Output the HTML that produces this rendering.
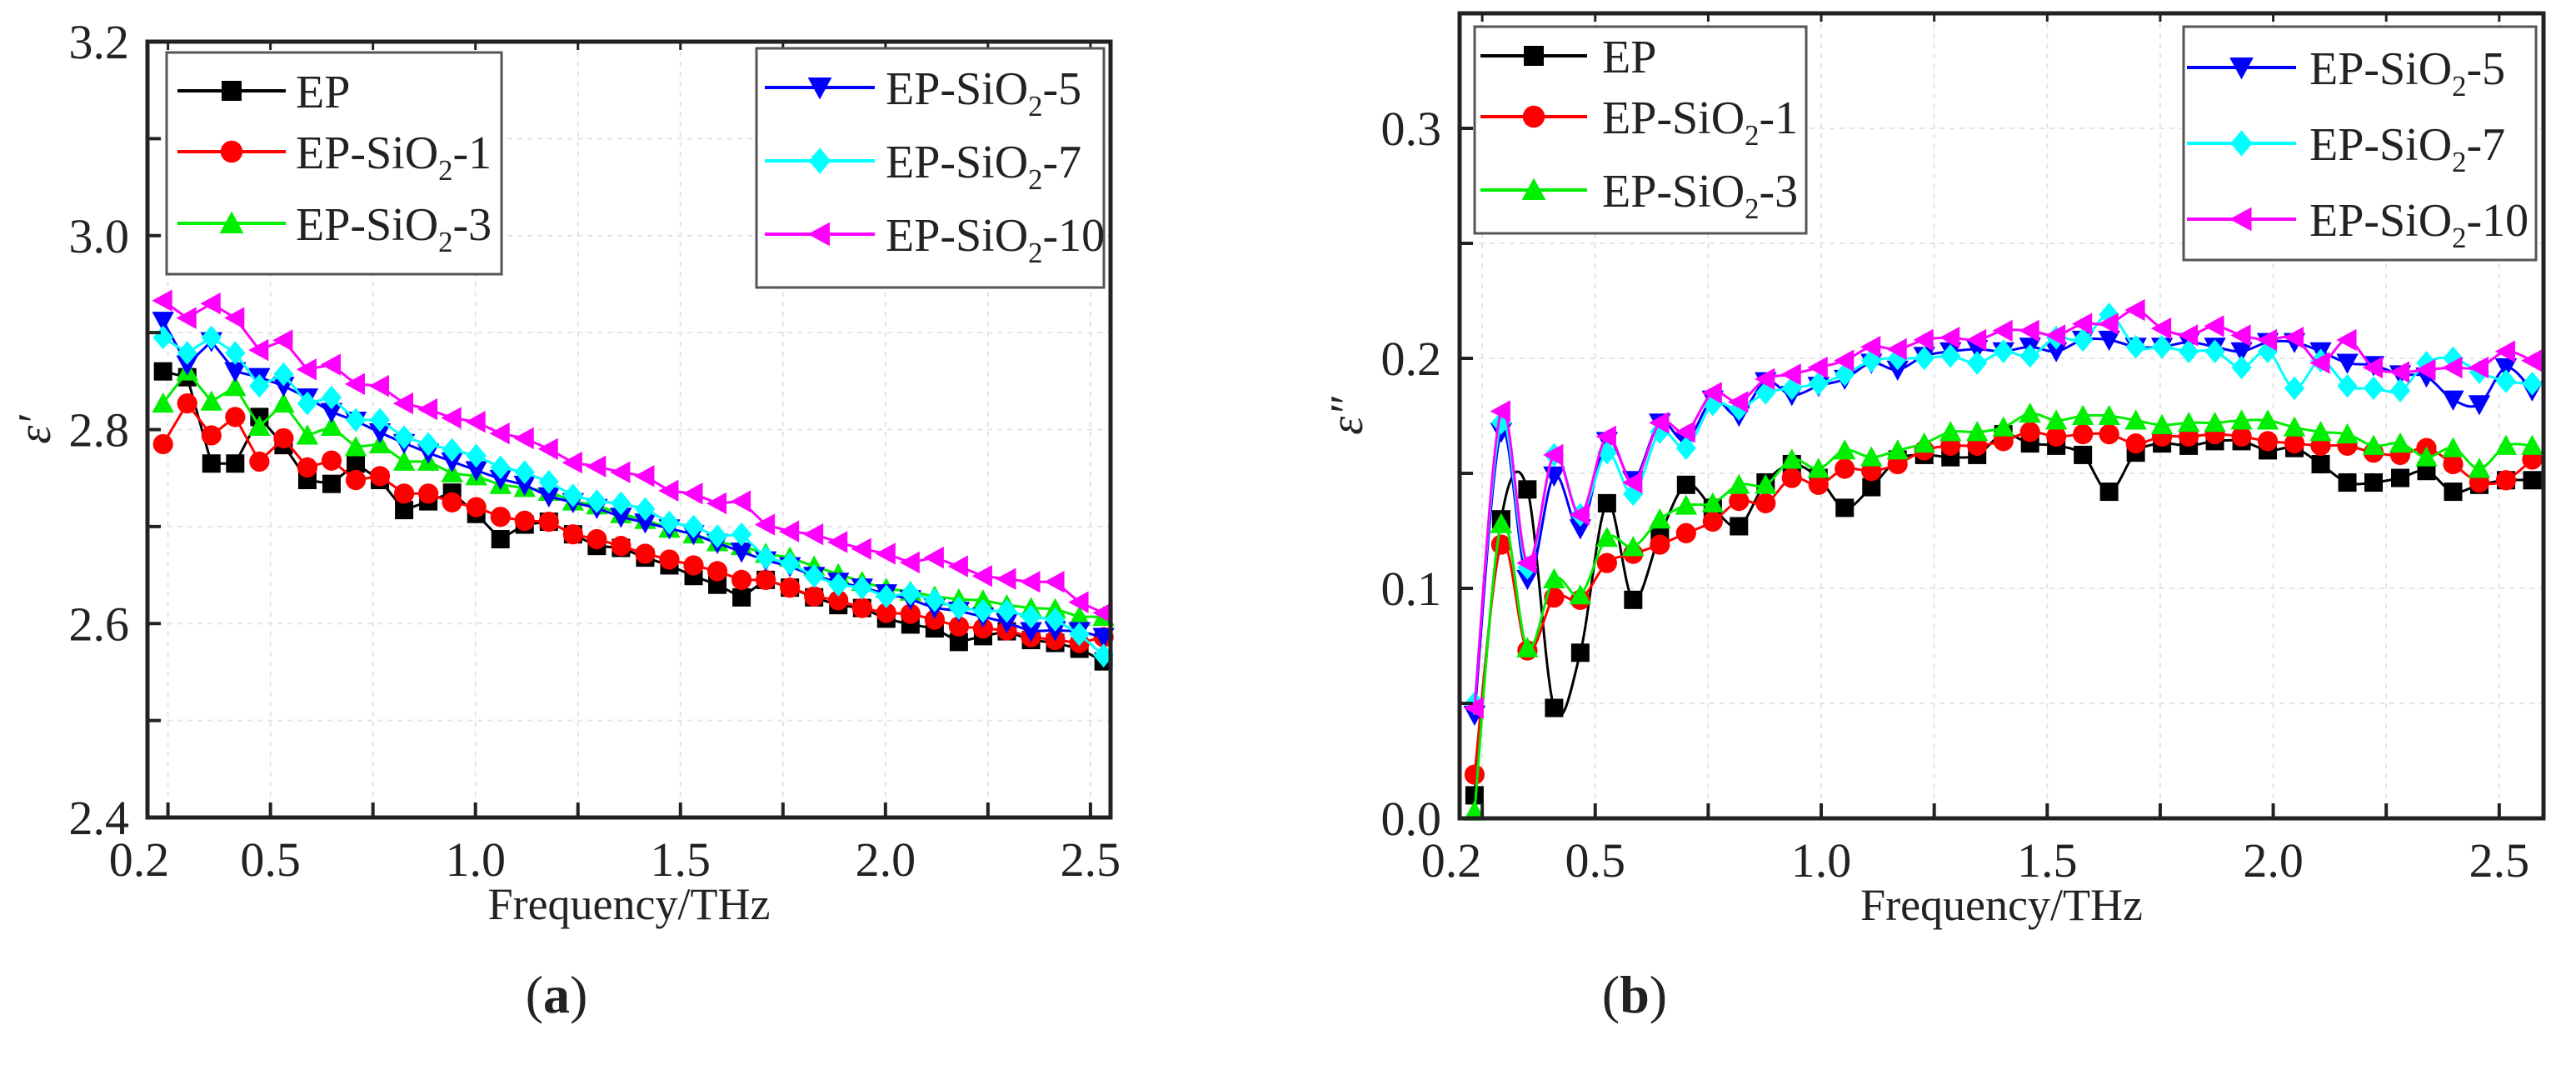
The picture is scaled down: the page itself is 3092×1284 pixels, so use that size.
<!DOCTYPE html>
<html><head><meta charset="utf-8"><style>
html,body{margin:0;padding:0;background:#fff}
svg{display:block}
text{font-family:"Liberation Serif","DejaVu Serif",serif;fill:#222}
</style></head><body>
<svg id="fig" width="3092" height="1284" viewBox="0 0 3092 1284" xmlns="http://www.w3.org/2000/svg" font-family="Liberation Serif, DejaVu Serif, serif">
<g id="ca"></g>
<g id="cb"></g>
<text x="668" y="1215" font-size="64" text-anchor="middle" font-family="Liberation Serif, serif">(<tspan font-weight="bold">a</tspan>)</text>
<text x="1962" y="1215" font-size="64" text-anchor="middle" font-family="Liberation Serif, serif">(<tspan font-weight="bold">b</tspan>)</text>
</svg>
<script>
const freqA = [0.238,0.297,0.356,0.414,0.473,0.532,0.590,0.649,0.708,0.767,0.826,0.885,0.943,1.002,1.061,1.120,1.179,1.238,1.296,1.355,1.414,1.473,1.532,1.590,1.649,1.708,1.767,1.826,1.885,1.943,2.002,2.061,2.120,2.179,2.238,2.296,2.355,2.414,2.473,2.532];
const aEP  = [2.860,2.854,2.765,2.765,2.813,2.784,2.748,2.744,2.765,2.748,2.717,2.726,2.735,2.713,2.687,2.702,2.705,2.692,2.680,2.678,2.668,2.660,2.649,2.640,2.627,2.645,2.637,2.627,2.619,2.616,2.605,2.599,2.595,2.581,2.587,2.592,2.583,2.580,2.574,2.561];
const aS1  = [2.785,2.827,2.794,2.813,2.767,2.791,2.761,2.768,2.748,2.752,2.734,2.734,2.725,2.720,2.710,2.706,2.705,2.692,2.687,2.680,2.672,2.666,2.660,2.654,2.645,2.645,2.637,2.628,2.624,2.616,2.611,2.610,2.604,2.597,2.595,2.593,2.586,2.583,2.580,2.586];
const aS3  = [2.827,2.860,2.829,2.844,2.803,2.827,2.794,2.803,2.782,2.785,2.767,2.767,2.755,2.752,2.743,2.740,2.736,2.726,2.722,2.713,2.707,2.698,2.692,2.684,2.680,2.672,2.668,2.659,2.651,2.643,2.636,2.633,2.628,2.625,2.624,2.619,2.616,2.615,2.607,2.607];
const aS5  = [2.912,2.867,2.891,2.860,2.854,2.845,2.833,2.818,2.809,2.797,2.786,2.776,2.767,2.758,2.749,2.743,2.731,2.725,2.719,2.710,2.704,2.698,2.692,2.683,2.674,2.665,2.659,2.649,2.643,2.637,2.631,2.625,2.616,2.613,2.607,2.601,2.592,2.593,2.592,2.586];
const aS7  = [2.895,2.879,2.895,2.879,2.845,2.857,2.827,2.833,2.810,2.810,2.792,2.785,2.779,2.773,2.761,2.756,2.746,2.732,2.726,2.724,2.718,2.704,2.700,2.690,2.692,2.668,2.662,2.649,2.640,2.637,2.628,2.631,2.624,2.616,2.613,2.613,2.607,2.604,2.589,2.567];
const aS10 = [2.933,2.915,2.930,2.915,2.882,2.892,2.862,2.867,2.847,2.845,2.827,2.821,2.812,2.808,2.796,2.791,2.780,2.766,2.762,2.756,2.752,2.737,2.734,2.724,2.726,2.702,2.695,2.692,2.684,2.677,2.672,2.663,2.668,2.659,2.649,2.646,2.643,2.643,2.622,2.611];
const freqB = [0.233,0.292,0.350,0.409,0.467,0.526,0.584,0.643,0.701,0.760,0.818,0.877,0.935,0.994,1.052,1.111,1.169,1.228,1.286,1.345,1.403,1.462,1.520,1.579,1.637,1.696,1.754,1.813,1.871,1.930,1.988,2.047,2.105,2.164,2.222,2.281,2.339,2.398,2.456,2.515,2.573];
const bEP  = [0.010,0.130,0.143,0.048,0.072,0.137,0.095,0.123,0.145,0.135,0.127,0.146,0.154,0.148,0.135,0.144,0.156,0.158,0.157,0.158,0.167,0.163,0.162,0.158,0.142,0.159,0.163,0.162,0.164,0.164,0.160,0.161,0.154,0.146,0.146,0.148,0.151,0.142,0.145,0.147,0.147];
const bS1  = [0.019,0.119,0.073,0.096,0.095,0.111,0.115,0.119,0.124,0.129,0.138,0.137,0.148,0.145,0.152,0.151,0.154,0.160,0.162,0.162,0.164,0.168,0.166,0.167,0.167,0.163,0.166,0.166,0.167,0.166,0.164,0.163,0.162,0.162,0.159,0.158,0.161,0.154,0.146,0.147,0.156];
const bS3  = [0.003,0.128,0.074,0.104,0.097,0.122,0.118,0.130,0.136,0.137,0.145,0.145,0.156,0.152,0.160,0.157,0.160,0.163,0.168,0.168,0.170,0.176,0.173,0.175,0.175,0.173,0.171,0.172,0.172,0.173,0.173,0.170,0.168,0.167,0.162,0.163,0.157,0.161,0.152,0.162,0.162];
const bS5  = [0.045,0.168,0.104,0.149,0.126,0.164,0.147,0.172,0.164,0.182,0.175,0.190,0.184,0.188,0.191,0.198,0.195,0.201,0.203,0.204,0.203,0.205,0.203,0.208,0.208,0.205,0.205,0.207,0.205,0.203,0.207,0.207,0.203,0.198,0.197,0.193,0.192,0.182,0.180,0.196,0.186];
const bS7  = [0.050,0.172,0.109,0.158,0.132,0.159,0.141,0.168,0.161,0.180,0.178,0.185,0.187,0.189,0.193,0.199,0.200,0.200,0.201,0.198,0.203,0.201,0.209,0.208,0.219,0.205,0.205,0.203,0.203,0.196,0.203,0.187,0.199,0.188,0.187,0.186,0.198,0.200,0.194,0.190,0.189];
const bS10 = [0.048,0.177,0.111,0.158,0.132,0.166,0.146,0.172,0.168,0.185,0.181,0.191,0.193,0.196,0.199,0.205,0.204,0.208,0.209,0.208,0.212,0.212,0.210,0.215,0.215,0.221,0.213,0.210,0.214,0.210,0.208,0.209,0.198,0.208,0.196,0.194,0.195,0.196,0.196,0.203,0.199];
const seriesNames = ["EP","EP-SiO2-1","EP-SiO2-3","EP-SiO2-5","EP-SiO2-7","EP-SiO2-10"];
const ticksA = ["2.4","2.6","2.8","3.0","3.2"];
const ticksB = ["0.0","0.1","0.2","0.3"];
const xTicks = ["0.2","0.5","1.0","1.5","2.0","2.5"];

const NS="http://www.w3.org/2000/svg";
const colors=["#000","#ff0000","#00ee00","#0000ff","#00ffff","#ff00ff"];
const shapes=["sq","ci","tu","td","di","tl"];
function mk(tag,attrs,parent){const e=document.createElementNS(NS,tag);for(const k in attrs)e.setAttribute(k,attrs[k]);parent.appendChild(e);return e;}
function marker(g,shape,x,y,c,s){
  let e;
  if(shape==="sq")e=mk("rect",{x:x-s,y:y-s,width:2*s,height:2*s,fill:c},g);
  else if(shape==="ci")e=mk("circle",{cx:x,cy:y,r:s*1.1,fill:c},g);
  else if(shape==="tu")e=mk("polygon",{points:`${x},${y-s*1.2} ${x-s*1.2},${y+s} ${x+s*1.2},${y+s}`,fill:c},g);
  else if(shape==="td")e=mk("polygon",{points:`${x},${y+s*1.2} ${x-s*1.2},${y-s} ${x+s*1.2},${y-s}`,fill:c},g);
  else if(shape==="di")e=mk("polygon",{points:`${x},${y-s*1.3} ${x+s*1.1},${y} ${x},${y+s*1.3} ${x-s*1.1},${y}`,fill:c},g);
  else e=mk("polygon",{points:`${x-s*1.2},${y} ${x+s},${y-s*1.2} ${x+s},${y+s*1.2}`,fill:c},g);
  return e;
}
function label(g,parts,x,y,fs){
  const t=mk("text",{x:x,y:y,"font-size":fs,"font-family":"Liberation Serif, serif"},g);
  if(parts==="EP"){t.textContent="EP";return t;}
  const suf=parts.split("SiO2")[1];
  t.appendChild(document.createTextNode("EP-SiO"));
  const s=mk("tspan",{dy:14,"font-size":fs*0.62},t);s.textContent="2";
  const r=mk("tspan",{dy:-14},t);r.textContent=suf;
  return t;
}
function catmull(pts){
  let d=`M${pts[0][0]},${pts[0][1]}`;
  for(let i=0;i<pts.length-1;i++){
    const p0=pts[Math.max(0,i-1)],p1=pts[i],p2=pts[i+1],p3=pts[Math.min(pts.length-1,i+2)];
    const c1x=p1[0]+(p2[0]-p0[0])/6,c1y=p1[1]+(p2[1]-p0[1])/6;
    const c2x=p2[0]-(p3[0]-p1[0])/6,c2y=p2[1]-(p3[1]-p1[1])/6;
    d+=` C${c1x},${c1y} ${c2x},${c2y} ${p2[0]},${p2[1]}`;
  }
  return d;
}
function chart(g,cfg){
  const {L,R,T,B,xmin,xmax,ymin,ymax,yTicks,minorY,freq,data,smooth,ytitle,ytx,legs}=cfg;
  const X=v=>L+(v-xmin)/(xmax-xmin)*(R-L);
  const Y=v=>B-(v-ymin)/(ymax-ymin)*(B-T);
  for(let v=0.25;v<xmax;v+=0.25){const gl=mk("line",{x1:X(v),x2:X(v),y1:T,y2:B,stroke:"#e4e4e4","stroke-width":2,"stroke-dasharray":"6 6"},g);
    
    }
  for(let v=ymin+minorY;v<ymax-1e-9;v+=minorY){const gl=mk("line",{x1:L,x2:R,y1:Y(v),y2:Y(v),stroke:"#e4e4e4","stroke-width":2,"stroke-dasharray":"6 6"},g);
    
    }
  data.forEach((arr,si)=>{
    const sg=mk("g",{},g);
    
    
    const pts=arr.map((v,i)=>[X(freq[i]),Y(v)]);
    const ln=mk("path",{d:smooth?catmull(pts):"M"+pts.map(p=>p.join(",")).join(" L"),fill:"none",stroke:colors[si],"stroke-width":3},sg);
    
    
    pts.forEach(p=>{const m=marker(sg,shapes[si],p[0],p[1],colors[si],11);
      
      });
  });
  const fr=mk("rect",{x:L,y:T,width:R-L,height:B-T,fill:"none",stroke:"#222","stroke-width":5},g);
  
  
  for(let v=0.25;v<xmax;v+=0.25){mk("line",{x1:X(v),x2:X(v),y1:B,y2:B-18,stroke:"#222","stroke-width":4},g);mk("line",{x1:X(v),x2:X(v),y1:T,y2:T+10,stroke:"#222","stroke-width":3},g);}
  xTicks.forEach(t=>{const tx=mk("text",{x:X(+t)-(t==="0.2"?10:0),y:B+70,"font-size":58,"text-anchor":"middle","font-family":"Liberation Serif, serif"},g);tx.textContent=t;
    
    });
  for(let v=ymin+minorY;v<ymax-1e-9;v+=minorY){mk("line",{x1:L,x2:L+16,y1:Y(v),y2:Y(v),stroke:"#222","stroke-width":4},g);}
  yTicks.forEach(t=>{const ty=mk("text",{x:L-22,y:Y(+t)+20,"font-size":58,"text-anchor":"end","font-family":"Liberation Serif, serif"},g);ty.textContent=t;
    
    });
  const xt=mk("text",{x:(L+R)/2,y:B+122,"font-size":54,"text-anchor":"middle","font-family":"Liberation Serif, serif"},g);xt.textContent="Frequency/THz";
  
  
  const yt=mk("text",{x:ytx,y:(T+B)/2,"font-size":56,"font-style":"italic","text-anchor":"middle","font-family":"Liberation Serif, serif",transform:`rotate(-90 ${ytx} ${(T+B)/2})`},g);yt.textContent=ytitle;
  
  
  legs.forEach((lg,li)=>{
    const lgg=mk("g",{},g);
    
    
    mk("rect",{x:lg.x0,y:lg.y0,width:lg.x1-lg.x0,height:lg.y1-lg.y0,fill:"#fff",stroke:"#555","stroke-width":3},lgg);
    lg.items.forEach((si,k)=>{
      const e=mk("g",{},lgg);
      
      
      const y=lg.ys[k];
      mk("line",{x1:lg.l0,x2:lg.l1,y1:y,y2:y,stroke:colors[si],"stroke-width":4},e);
      marker(e,shapes[si],(lg.l0+lg.l1)/2,y,colors[si],12);
      label(e,seriesNames[si],lg.tx,y+20,56);
    });
  });
}
chart(document.getElementById("ca"),{L:177,R:1333,T:50,B:981,xmin:0.2,xmax:2.549,ymin:2.4,ymax:3.2,yTicks:ticksA,minorY:0.1,freq:freqA,
  data:[aEP,aS1,aS3,aS5,aS7,aS10],smooth:false,ytitle:"ε′",ytx:60,
  legs:[{x0:200,x1:602,y0:63,y1:329,items:[0,1,2],ys:[109,182,268],l0:213,l1:343,tx:355},
        {x0:908,x1:1325,y0:58,y1:345,items:[3,4,5],ys:[105,193,281],l0:918,l1:1050,tx:1063}]});
chart(document.getElementById("cb"),{L:1752,R:3053,T:16,B:982,xmin:0.2,xmax:2.598,ymin:0,ymax:0.35,yTicks:ticksB,minorY:0.05,freq:freqB,
  data:[bEP,bS1,bS3,bS5,bS7,bS10],smooth:true,ytitle:"ε″",ytx:1635,
  legs:[{x0:1770,x1:2168,y0:32,y1:280,items:[0,1,2],ys:[67,140,228],l0:1777,l1:1905,tx:1923},
        {x0:2621,x1:3044,y0:32,y1:312,items:[3,4,5],ys:[81,172,263],l0:2625,l1:2756,tx:2772}]});
</script>
</body></html>
